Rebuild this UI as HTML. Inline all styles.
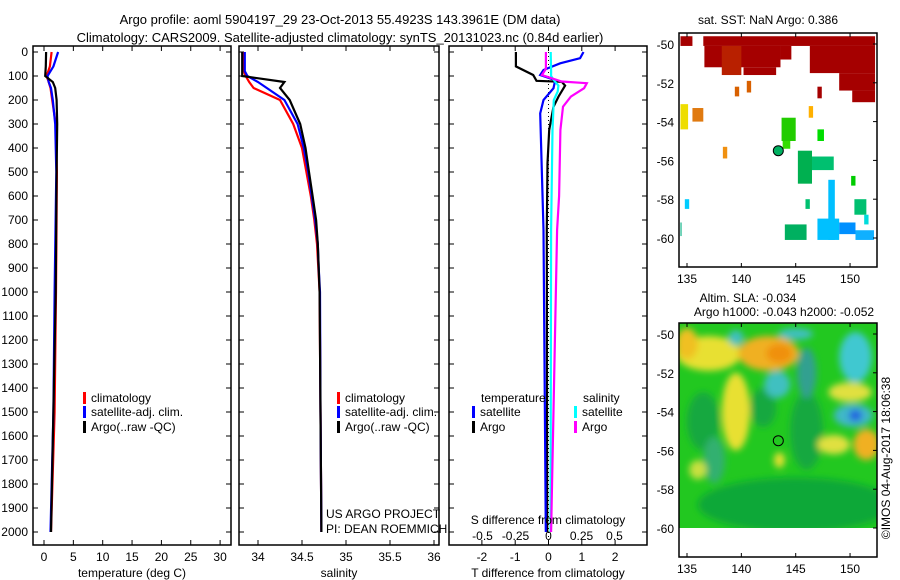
<!DOCTYPE html>
<html><head><meta charset="utf-8"><style>
html,body{margin:0;padding:0;background:#fff;}
svg{display:block;font-family:"Liberation Sans",sans-serif;}
text{font-size:12px;fill:#000;}
</style></head><body>
<svg id="fig" width="900" height="580" viewBox="0 0 900 580" xmlns="http://www.w3.org/2000/svg">
<defs>
<clipPath id="c1"><rect x="33" y="46" width="198" height="499"/></clipPath>
<clipPath id="c2"><rect x="239" y="46" width="200" height="499"/></clipPath>
<clipPath id="c3"><rect x="449" y="46" width="198" height="499"/></clipPath>
<clipPath id="cm1"><rect x="679" y="33" width="198" height="234"/></clipPath>
<clipPath id="cm2"><rect x="679" y="323" width="198" height="205"/></clipPath>
<filter id="blur" x="-20%" y="-20%" width="140%" height="140%"><feGaussianBlur stdDeviation="3.5"/></filter>
</defs>
<text x="340" y="24" text-anchor="middle" style="font-size:13px">Argo profile: aoml 5904197_29 23-Oct-2013 55.4923S 143.3961E (DM data)</text>
<text x="340" y="42" text-anchor="middle" style="font-size:13px">Climatology: CARS2009. Satellite-adjusted climatology: synTS_20131023.nc (0.84d earlier)</text>
<g id="g1"></g>
<g id="g2"></g>
<g id="g3"></g>
<g id="m1"></g>
<g id="m2"></g>
</svg>
<script>
// ---- profile data (depth m) ----
const tDepth = [0, 60, 100, 125, 150, 200, 300, 500, 1000, 1500, 2000];
const tClim  = [1.3, 1.0, 0.45, 0.8, 1.1, 1.4, 2.0, 2.2, 2.05, 1.8, 1.2];
const tSat   = [2.4, 1.6, 0.6, 0.8, 1.2, 1.5, 1.9, 2.1, 1.8, 1.6, 1.1];
const tArgo  = [0.35, 0.3, 0.2, 1.5, 1.9, 2.15, 2.25, 2.15, 2.0, 1.6, 1.2];
const sDepth = [0, 80, 100, 125, 150, 200, 300, 400, 500, 600, 700, 800, 900, 1000, 1500, 2000];
const sClim  = [33.84, 33.84, 33.86, 33.9, 33.95, 34.25, 34.4, 34.5, 34.55, 34.6, 34.64, 34.67, 34.685, 34.7, 34.71, 34.72];
const sSat   = [33.85, 33.85, 33.88, 34.0, 34.1, 34.3, 34.45, 34.52, 34.57, 34.61, 34.65, 34.68, 34.69, 34.705, 34.71, 34.72];
const sArgo  = [33.82, 33.82, 33.82, 34.3, 34.25, 34.36, 34.48, 34.54, 34.58, 34.62, 34.66, 34.68, 34.69, 34.70, 34.71, 34.72];
const dDepthA = [0, 60, 96, 120, 124, 140, 186, 228, 325, 464, 741, 2000];
const dTArgo  = [-0.98, -0.98, -0.46, -0.36, 0.4, 0.5, 0.3, 0.15, 0.02, -0.03, -0.05, -0.04];
const dDepthB = [0, 26, 47, 75, 96, 117, 151, 200, 256, 741, 2000];
const dTSat   = [1.05, 0.95, 0.35, -0.15, -0.25, 0.2, 0.15, -0.15, -0.25, -0.15, -0.08];
const dDepthC = [0, 80, 100, 117, 140, 165, 200, 325, 741, 2000];
const dSSat   = [0.017, 0.02, 0.02, 0.04, 0.075, 0.07, 0.04, 0.03, 0.02, 0.015];
const dDepthD = [0, 70, 96, 123, 130, 151, 186, 228, 325, 600, 741, 2000];
const dSArgo  = [-0.02, -0.02, -0.05, 0.10, 0.29, 0.27, 0.17, 0.11, 0.09, 0.08, 0.065, 0.02];
const depthTicks = [0,100,200,300,400,500,600,700,800,900,1000,1100,1200,1300,1400,1500,1600,1700,1800,1900,2000];
const tTicks = [0,5,10,15,20,25,30];
const sTicks = [34,34.5,35,35.5,36];
const dTTicks = [-2,-1,0,1,2];
const dSTicks = [-0.5,-0.25,0,0.25,0.5];
const latTicks = [-50,-52,-54,-56,-58,-60];
const lonTicks = [135,140,145,150];

const NS="http://www.w3.org/2000/svg";
function el(tag, attrs, parent, txt){const e=document.createElementNS(NS,tag);for(const k in attrs)e.setAttribute(k,attrs[k]);if(txt!==undefined)e.textContent=txt;parent.appendChild(e);return e;}
const yD = d => 52 + d*0.24;
const xT = v => 44 + v*5.87;
const xS = v => 258 + (v-34)*88;
const xDT = v => 548.5 + v*33.3;
const xDS = v => 548.5 + v*132;

function stepPath(depths, vals, xf){
  let p="";
  for(let i=0;i<depths.length;i++){
    const x=xf(vals[i]).toFixed(1), y=yD(depths[i]).toFixed(1);
    p += (i? "L":"M")+x+","+y;
  }
  return p;
}
function frame(g, x0, x1, y0, y1, name){
  const r=el('rect',{x:x0,y:y0,width:x1-x0,height:y1-y0,fill:'none',stroke:'#000','stroke-width':1.5},g);
  
  
}
function line(g, depths, vals, xf, color, clip, name, w){
  const p=el('path',{d:stepPath(depths,vals,xf),fill:'none',stroke:color,'stroke-width':w||2.2,'clip-path':'url(#'+clip+')'},g);
  
  
}
function xTicks(g, ticks, xf, y0, y1, labelY, name){
  ticks.forEach(t=>{
    const x=xf(t);
    el('line',{x1:x,x2:x,y1:y1,y2:y1-5,stroke:'#000'},g);
    el('line',{x1:x,x2:x,y1:y0,y2:y0+5,stroke:'#000'},g);
    if(labelY){const tx=el('text',{x:x,y:labelY,'text-anchor':'middle'},g,String(t));
      
      }
  });
}
function yTicks(g, x0, x1, withLabels){
  depthTicks.forEach(d=>{
    const y=yD(d);
    el('line',{x1:x0,x2:x0+5,y1:y,y2:y,stroke:'#000'},g);
    el('line',{x1:x1,x2:x1-5,y1:y,y2:y,stroke:'#000'},g);
    if(withLabels){const t=el('text',{x:28,y:y+4,'text-anchor':'end'},g,String(d));
      
      }
  });
}
function legend(g, x, y, color, label, name){
  el('rect',{x:x,y:y-10,width:3,height:12,fill:color},g);
  const t=el('text',{x:x+8,y:y},g,label);
  
  
}
// Panel 1
const g1=document.getElementById('g1');
frame(g1,33,231,46,545,'temperature-frame');
yTicks(g1,33,231,true);
xTicks(g1,tTicks,xT,46,545,561,'temperature-tick-label');
line(g1,tDepth,tClim,xT,'#ff0000','c1','temperature-climatology-line');
line(g1,tDepth,tSat,xT,'#0000ff','c1','temperature-satellite-line');
line(g1,tDepth,tArgo,xT,'#000','c1','temperature-argo-line');
legend(g1,83,402,'#f00','climatology','legend-climatology');
legend(g1,83,416,'#00f','satellite-adj. clim.','legend-satellite');
legend(g1,83,431,'#000','Argo(..raw -QC)','legend-argo');
let t=el('text',{x:132,y:577,'text-anchor':'middle'},g1,'temperature (deg C)');


// Panel 2
const g2=document.getElementById('g2');
frame(g2,239,439,46,545,'salinity-frame');
yTicks(g2,239,439,false);
xTicks(g2,sTicks,xS,46,545,561,'salinity-tick-label');
line(g2,sDepth,sClim,xS,'#ff0000','c2','salinity-climatology-line');
line(g2,sDepth,sSat,xS,'#0000ff','c2','salinity-satellite-line');
line(g2,sDepth,sArgo,xS,'#000','c2','salinity-argo-line');
legend(g2,337,402,'#f00','climatology','legend-climatology');
legend(g2,337,416,'#00f','satellite-adj. clim.','legend-satellite');
legend(g2,337,431,'#000','Argo(..raw -QC)','legend-argo');
t=el('text',{x:326,y:518},g2,'US ARGO PROJECT');
t=el('text',{x:326,y:533},g2,'PI: DEAN ROEMMICH');
t=el('text',{x:339,y:577,'text-anchor':'middle'},g2,'salinity');

// Panel 3
const g3=document.getElementById('g3');
frame(g3,449,647,46,545,'difference-frame');
yTicks(g3,449,647,false);
xTicks(g3,dTTicks,xDT,46,545,561,'t-diff-tick-label');
dSTicks.forEach(v=>{const tx=el('text',{x:xDS(v),y:540,'text-anchor':'middle'},g3,String(v));
  });
el('line',{x1:548.5,x2:548.5,y1:52,y2:545,stroke:'#000','stroke-dasharray':'1,3'},g3);
line(g3,dDepthA,dTArgo,xDT,'#000','c3','t-diff-argo-line');
line(g3,dDepthB,dTSat,xDT,'#0000ff','c3','t-diff-satellite-line');
line(g3,dDepthC,dSSat,xDS,'#00ffff','c3','s-diff-satellite-line');
line(g3,dDepthD,dSArgo,xDS,'#ff00ff','c3','s-diff-argo-line');
t=el('text',{x:481,y:402},g3,'temperature');
legend(g3,472,416,'#00f','satellite','legend-t-satellite');
legend(g3,472,431,'#000','Argo','legend-t-argo');
t=el('text',{x:583,y:402},g3,'salinity');
legend(g3,574,416,'#0ff','satellite','legend-s-satellite');
legend(g3,574,431,'#f0f','Argo','legend-s-argo');
t=el('text',{x:548,y:524,'text-anchor':'middle'},g3,'S difference from climatology');
t=el('text',{x:548,y:577,'text-anchor':'middle'},g3,'T difference from climatology');

// ---- maps ----
const lonX = lo => 687 + (lo-135)*10.87;
const latY1 = la => 44 + (-50-la)*19.4;
const latY2 = la => 334 + (-50-la)*19.4;
const sstPatches = [
 [134.4,135.5,-49.6,-50.1,'#a50000'],[136.5,152.3,-49.6,-50.1,'#a50000'],[136.6,143.6,-50.1,-51.2,'#a50000'],
 [140.2,143.2,-51.2,-51.6,'#a50000'],[138.2,140,-50.1,-51.6,'#b82000'],[143.6,144.6,-50.1,-50.8,'#a50000'],
 [146.3,152.3,-50.1,-51.5,'#a50000'],[149,152.3,-51.5,-52.4,'#a50000'],[150.2,152.3,-52.4,-53,'#a50000'],[147,147.4,-52.2,-52.8,'#a50000'],
 [139.4,139.8,-52.2,-52.7,'#d86000'],[140.5,140.9,-51.9,-52.5,'#d86000'],[146.2,146.6,-53.2,-53.8,'#ffb000'],
 [135.5,136.5,-53.3,-54,'#e07a10'],[134.4,135.1,-53.1,-54.4,'#eedd00'],[138.3,138.7,-55.3,-55.9,'#f09010'],
 [143.7,145,-53.8,-55,'#22cc00'],[143.8,144.5,-55,-55.4,'#33dd00'],[147,147.6,-54.4,-55,'#00dd00'],[145.2,146.5,-55.5,-57.2,'#00b050'],
 [146.5,148.5,-55.8,-56.5,'#00c070'],[150.1,150.5,-56.8,-57.3,'#00cc00'],[145.9,146.3,-58,-58.5,'#00c070'],
 [150.4,151.5,-58,-58.8,'#00c070'],[151.3,151.7,-58.8,-59.3,'#00dcdc'],[144,146,-59.3,-60.1,'#00b060'],
 [148,148.6,-57,-60.1,'#00bfff'],[147,149,-59,-60.1,'#00c0ff'],[149,150.5,-59.2,-59.8,'#0090ff'],
 [150.5,152.2,-59.6,-60.1,'#10b0ff'],[134.8,135.2,-58,-58.5,'#00ccff'],[134.4,134.5,-59.2,-59.9,'#00b080']
];
const slaBlobs = [
 [145,-58.8,9,1.4,'#10a838'],[136.5,-54.5,1.5,1.5,'#18a840'],[146,-55,1.5,2,'#18a840'],[142,-53.8,1.2,1.0,'#18a840'],
 [137,-51,3,0.9,'#e8e030'],[142.5,-51,2.8,0.9,'#f0b020'],[143.5,-51,1.2,0.5,'#f09010'],[139.5,-54,1.3,2,'#e8e030'],
 [135,-50.5,1,0.8,'#f0c020'],[143.3,-52.6,1.2,0.7,'#40c0c0'],[146,-52,0.9,1.3,'#30a090'],[150.5,-51.2,1.5,1.3,'#40c8d0'],
 [150.3,-54.2,1.8,0.6,'#40b8c8'],[150.5,-54.2,0.6,0.3,'#2060e0'],[151.5,-55.7,1.2,0.8,'#f0b020'],[150,-53,2,0.5,'#e0e040'],
 [145,-50,1.6,0.3,'#40c0c0'],[139.5,-50.2,0.7,0.4,'#40c0c0'],[137.5,-56.5,1,1.2,'#30b070'],[143.5,-56.5,0.5,0.4,'#e8e030'],
 [136,-57,0.8,0.5,'#c8e040'],[148.5,-55.7,1.5,0.5,'#e0e040']
];
function mapAxes(g, yf, y0, y1, name){
  el('rect',{x:679,y:y0,width:198,height:y1-y0,fill:'none',stroke:'#000','stroke-width':1.5},g);
  latTicks.forEach(la=>{const y=yf(la);
    el('line',{x1:877,x2:873,y1:y,y2:y,stroke:'#000'},g);
    const tx=el('text',{x:674,y:y+5,'text-anchor':'end'},g,String(la));
    
    });
  lonTicks.forEach(lo=>{const x=lonX(lo);
    el('line',{x1:x,x2:x,y1:y0,y2:y0+4,stroke:'#000'},g);
    el('line',{x1:x,x2:x,y1:y1,y2:y1-4,stroke:'#000'},g);
    const tx=el('text',{x:x,y:y1+16,'text-anchor':'middle'},g,String(lo));
    
    });
}
const m1=document.getElementById('m1');
const m1c=el('g',{'clip-path':'url(#cm1)'},m1);
sstPatches.forEach(p=>{const r=el('rect',{x:lonX(p[0]),y:latY1(p[2]),width:lonX(p[1])-lonX(p[0]),height:latY1(p[3])-latY1(p[2]),fill:p[4]},m1c);
  });
el('circle',{cx:lonX(143.4),cy:latY1(-55.5),r:5,fill:'#00b060',stroke:'#000','stroke-width':1},m1);
mapAxes(m1,latY1,33,267,'sst-map');
t=el('text',{x:768,y:24,'text-anchor':'middle'},m1,'sat. SST: NaN Argo: 0.386');

const m2=document.getElementById('m2');
const m2c=el('g',{'clip-path':'url(#cm2)'},m2);
el('rect',{x:679,y:323,width:198,height:205,fill:'#22c820'},m2c);
const bg=el('g',{filter:'url(#blur)'},m2c);
slaBlobs.forEach(b=>{const e=el('ellipse',{cx:lonX(b[0]),cy:latY2(b[1]),rx:b[2]*10.87,ry:b[3]*19.4,fill:b[4]},bg);
  });
el('circle',{cx:lonX(143.4),cy:latY2(-55.5),r:5,fill:'none',stroke:'#000','stroke-width':1},m2);
mapAxes(m2,latY2,323,557,'sla-map');
t=el('text',{x:748,y:302,'text-anchor':'middle'},m2,'Altim. SLA: -0.034');
t=el('text',{x:784,y:316,'text-anchor':'middle'},m2,'Argo h1000: -0.043 h2000: -0.052');
t=el('text',{x:0,y:0,'text-anchor':'middle',transform:'translate(890,458) rotate(-90)'},m2,'©IMOS 04-Aug-2017 18:06:38');

</script>
</body></html>
